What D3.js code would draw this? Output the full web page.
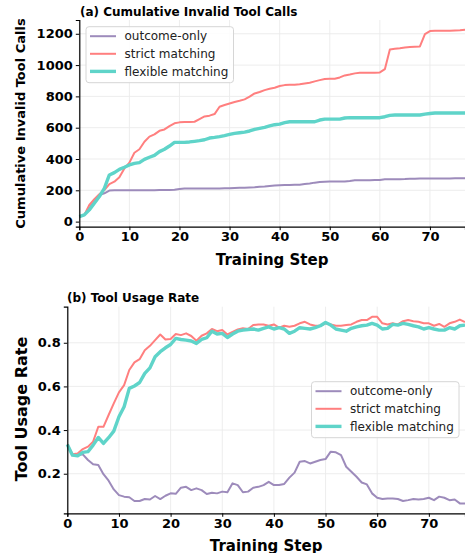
<!DOCTYPE html>
<html><head><meta charset="utf-8">
<script src="https://cdn.jsdelivr.net/npm/d3@7"></script>
<style>
body{margin:0;background:#fff;}
svg{display:block;font-family:"DejaVu Sans",sans-serif;}
</style></head>
<body><svg id="c" width="465" height="553"></svg>
<script>
const steps = d3.range(0, 78);
const seriesNames = ["outcome-only", "strict matching", "flexible matching"];
const seriesColors = ["#9d8bbb", "#ff7f7f", "#5fd4c9"];
const seriesWidths = [2, 2, 3.4];

const cumOutcome = [32,43,85,128,170,181,198,200,200,200,200,200,201,201,201,201,202,202,202,203,208,211,211,211,211,211,212,212,212,213,213,215,217,217,218,219,223,225,228,230,232,234,234,235,236,240,243,249,253,255,256,256,257,257,260,264,264,265,265,266,266,270,270,271,271,272,274,274,275,275,275,276,276,276,276,277,277,277];
const cumStrict = [32,43,106,143,175,202,240,255,283,340,377,440,462,510,543,557,580,589,610,628,634,636,636,638,655,672,677,687,734,745,755,764,772,781,798,819,828,840,849,855,866,872,874,874,877,883,887,896,904,911,913,913,921,934,940,947,951,951,951,951,953,974,1100,1104,1108,1113,1115,1117,1119,1198,1217,1219,1220,1220,1220,1221,1222,1225];
const cumFlexible = [32,43,75,117,160,213,298,313,334,347,362,372,377,398,411,423,447,462,483,506,506,506,509,513,517,523,534,538,543,549,557,564,568,572,579,589,596,602,611,619,623,632,638,638,638,638,638,638,649,655,655,655,655,662,664,664,664,664,664,664,664,670,679,681,681,681,681,681,681,687,691,694,694,694,694,694,694,694];

const rateOutcome = [0.334,0.285,0.285,0.289,0.263,0.243,0.240,0.198,0.168,0.128,0.102,0.095,0.092,0.075,0.075,0.084,0.082,0.098,0.084,0.099,0.110,0.108,0.136,0.140,0.125,0.133,0.125,0.107,0.113,0.110,0.118,0.115,0.156,0.148,0.115,0.118,0.136,0.140,0.148,0.163,0.148,0.148,0.153,0.182,0.205,0.255,0.258,0.247,0.255,0.263,0.267,0.301,0.298,0.285,0.232,0.209,0.186,0.160,0.151,0.110,0.090,0.084,0.087,0.087,0.084,0.075,0.079,0.084,0.082,0.084,0.090,0.079,0.095,0.090,0.079,0.082,0.064,0.064];
const rateStrict = [0.334,0.289,0.293,0.313,0.324,0.347,0.415,0.415,0.469,0.522,0.573,0.606,0.675,0.710,0.725,0.766,0.786,0.812,0.838,0.815,0.817,0.840,0.835,0.843,0.831,0.809,0.832,0.843,0.863,0.853,0.858,0.838,0.850,0.861,0.866,0.863,0.881,0.884,0.884,0.878,0.884,0.869,0.878,0.873,0.878,0.889,0.896,0.884,0.878,0.878,0.889,0.884,0.878,0.878,0.881,0.884,0.896,0.904,0.904,0.919,0.919,0.889,0.884,0.889,0.884,0.899,0.904,0.899,0.896,0.889,0.889,0.878,0.886,0.873,0.889,0.896,0.906,0.895];
const rateFlexible = [0.334,0.285,0.282,0.298,0.301,0.331,0.366,0.339,0.365,0.395,0.461,0.507,0.591,0.602,0.618,0.660,0.685,0.736,0.759,0.777,0.792,0.820,0.815,0.812,0.808,0.797,0.815,0.823,0.853,0.840,0.843,0.824,0.840,0.853,0.858,0.861,0.863,0.858,0.866,0.873,0.863,0.869,0.863,0.843,0.853,0.869,0.866,0.863,0.869,0.878,0.893,0.881,0.863,0.858,0.853,0.866,0.873,0.878,0.881,0.889,0.881,0.863,0.866,0.884,0.881,0.889,0.884,0.878,0.873,0.863,0.869,0.863,0.858,0.858,0.869,0.863,0.878,0.881];

const xTicks = [0,10,20,30,40,50,60,70];
const yTicksA = [0,200,400,600,800,1000,1200];
const yTicksB = [0.2,0.4,0.6,0.8];

const svg = d3.select("#c");

function panel(o){
  const g = svg.append("g");
  const x = d3.scaleLinear().domain([0,77]).range([o.left, o.right]);
  const y = d3.scaleLinear().domain(o.ydom).range([o.bottom, o.top]);
  // grid
  g.append("g").selectAll("line").data(xTicks).join("line")
    .attr("x1", d=>x(d)).attr("x2", d=>x(d)).attr("y1", o.top).attr("y2", o.bottom)
    .attr("stroke","#ebebeb").attr("stroke-width",0.9);
  g.append("g").selectAll("line").data(o.yticks).join("line")
    .attr("y1", d=>y(d)).attr("y2", d=>y(d)).attr("x1", o.left).attr("x2", o.right)
    .attr("stroke","#ebebeb").attr("stroke-width",0.9);
  // lines
  const line = d3.line().x((d,i)=>x(steps[i])).y(d=>y(d));
  o.data.forEach((arr,k)=>{
    g.append("path").datum(arr).attr("d", line).attr("fill","none")
      .attr("stroke", seriesColors[k]).attr("stroke-width", seriesWidths[k])
      .attr("stroke-linejoin","round").attr("stroke-linecap","butt");
  });
  // axes
  const xa = g.append("g").attr("transform",`translate(0,${o.bottom})`)
    .call(d3.axisBottom(x).tickValues(xTicks).tickSize(3.5).tickPadding(2).tickFormat(d3.format("d")));
  const ya = g.append("g").attr("transform",`translate(${o.left},0)`)
    .call(d3.axisLeft(y).tickValues(o.yticks).tickSize(3.5).tickPadding(3).tickFormat(o.yfmt));
  [xa,ya].forEach(a=>{
    a.select(".domain").attr("stroke","#000").attr("stroke-width",1.2);
    a.selectAll(".tick line").attr("stroke","#000").attr("stroke-width",1);
    a.selectAll(".tick text").attr("font-family","DejaVu Sans").attr("font-weight","bold")
      .attr("font-size",13).attr("fill","#000");
  });
  // title
  g.append("text").attr("x", o.titleX).attr("y", o.titleY).text(o.title)
    .attr("font-weight","bold").attr("font-size",12).attr("fill","#000");
  // axis labels
  g.append("text").attr("x",(o.left+o.right)/2).attr("y", o.xlabY).attr("text-anchor","middle")
    .attr("font-weight","bold").attr("font-size",15).text("Training Step");
  g.append("text").attr("transform",`translate(${o.ylabX},${o.ylabCy}) rotate(-90)`)
    .attr("text-anchor","middle").attr("font-weight","bold").attr("font-size",o.ylabSize).text(o.ylabel);
  // legend
  const L = g.append("g");
  L.append("rect").attr("x",o.legX).attr("y",o.legY).attr("width",147.5).attr("height",56)
    .attr("rx",3).attr("fill","rgba(255,255,255,0.85)").attr("stroke","#d6d6d6").attr("stroke-width",1);
  seriesNames.forEach((n,k)=>{
    const yy = o.legY + 9.5 + k*17.6;
    L.append("line").attr("x1",o.legX+4).attr("x2",o.legX+30).attr("y1",yy).attr("y2",yy)
      .attr("stroke",seriesColors[k]).attr("stroke-width",seriesWidths[k]);
    L.append("text").attr("x",o.legX+38.5).attr("y",yy).attr("dy","0.35em")
      .attr("font-size",12).attr("fill","#222").text(n);
  });
}

panel({left:79.3,right:465,top:20,bottom:226.7,ydom:[-32.5,1288],yticks:yTicksA,yfmt:d3.format("d"),
  data:[cumOutcome,cumStrict,cumFlexible],title:"(a) Cumulative Invalid Tool Calls",titleX:80,titleY:16,
  xlabY:264.5,ylabX:25,ylabCy:123.5,ylabSize:13,ylabel:"Cumulative Invalid Tool Calls",legX:86,legY:26.7});
panel({left:67.3,right:465,top:306.7,bottom:513.3,ydom:[0.0187,0.9652],yticks:yTicksB,yfmt:d3.format(".1f"),
  data:[rateOutcome,rateStrict,rateFlexible],title:"(b) Tool Usage Rate",titleX:67,titleY:302,
  xlabY:550.5,ylabX:26.5,ylabCy:409,ylabSize:16,ylabel:"Tool Usage Rate",legX:311.5,legY:381.7});
</script></body></html>
